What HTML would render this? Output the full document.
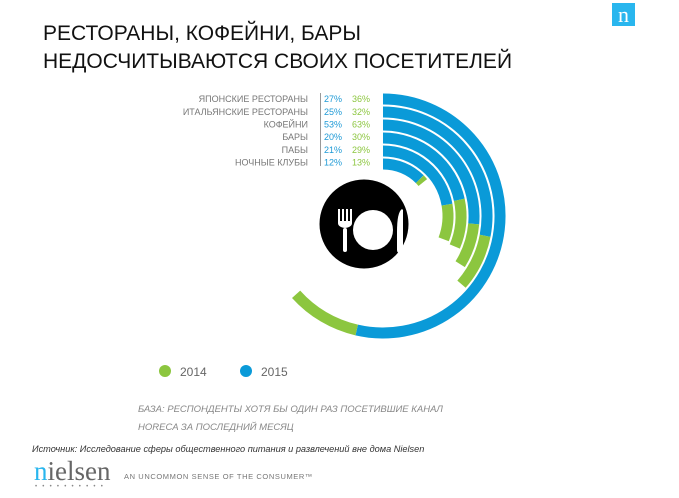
<!DOCTYPE html>
<html><head><meta charset="utf-8"><style>
body{margin:0;width:679px;height:498px;background:#fff;overflow:hidden;font-family:"Liberation Sans","Noto Sans CJK SC",sans-serif}
</style></head><body>
<svg id="s" width="679" height="498" xmlns="http://www.w3.org/2000/svg" style="position:absolute;left:0;top:0">
<text x="43" y="40" font-size="21" fill="#111" font-family="Liberation Sans, sans-serif">РЕСТОРАНЫ, КОФЕЙНИ, БАРЫ</text>
<text x="43" y="68" font-size="21" fill="#111" font-family="Liberation Sans, sans-serif">НЕДОСЧИТЫВАЮТСЯ СВОИХ ПОСЕТИТЕЛЕЙ</text>
<rect x="612" y="3" width="23" height="23" fill="#29b6ee"/>
<text x="623.5" y="22" font-size="22" fill="#fff" text-anchor="middle" font-family="Liberation Serif, serif">n</text>
<g font-size="9" fill="#777" text-anchor="end">
<text x="308" y="102">ЯПОНСКИЕ РЕСТОРАНЫ</text>
<text x="308" y="115">ИТАЛЬЯНСКИЕ РЕСТОРАНЫ</text>
<text x="308" y="127.5">КОФЕЙНИ</text>
<text x="308" y="140">БАРЫ</text>
<text x="308" y="153">ПАБЫ</text>
<text x="308" y="165.5">НОЧНЫЕ КЛУБЫ</text>
</g>
<line x1="320.5" y1="93" x2="320.5" y2="166" stroke="#999" stroke-width="1"/>
<g font-size="9" fill="#1e9ad6">
<text x="324" y="102">27%</text><text x="324" y="115">25%</text><text x="324" y="127.5">53%</text><text x="324" y="140">20%</text><text x="324" y="153">21%</text><text x="324" y="165.5">12%</text>
</g>
<g font-size="9" fill="#8cc63f">
<text x="352" y="102">36%</text><text x="352" y="115">32%</text><text x="352" y="127.5">63%</text><text x="352" y="140">30%</text><text x="352" y="153">29%</text><text x="352" y="165.5">13%</text>
</g>
<g id="arcs" fill="none" stroke-width="11"></g>
<circle cx="364" cy="224" r="44.5" fill="#000"/>
<circle cx="373" cy="230" r="20" fill="#fff"/>
<rect x="343" y="228" width="4" height="24" rx="2" fill="#fff"/>
<path d="M338 209h2v12h2v-12h2v12h2v-12h2v12h2v-12h2v14q0 4-7 5-7-1-7-5z" fill="#fff"/>
<path d="M402 209 Q397 212 397 232 V250 Q397 253 400 253 Q403 253 403 250 V210 Z" fill="#fff"/>
<circle cx="165" cy="371" r="6" fill="#8cc63f"/>
<text x="180" y="376" font-size="12" fill="#666">2014</text>
<circle cx="246" cy="371" r="6" fill="#0a9ad8"/>
<text x="261" y="376" font-size="12" fill="#666">2015</text>
<text x="138" y="412" font-size="9.5" fill="#888" font-style="italic">БАЗА: РЕСПОНДЕНТЫ ХОТЯ БЫ ОДИН РАЗ ПОСЕТИВШИЕ КАНАЛ</text>
<text x="138" y="430" font-size="9.5" fill="#888" font-style="italic">HORECA ЗА ПОСЛЕДНИЙ МЕСЯЦ</text>
<text x="32" y="452" font-size="9.2" fill="#333" font-style="italic">Источник: Исследование сферы общественного питания и развлечений вне дома Nielsen</text>
<text x="34" y="480" font-size="27" fill="#666" font-family="Liberation Serif, serif"><tspan fill="#29b6ee">n</tspan>ielsen</text>
<text x="35" y="488" font-size="6" fill="#888" letter-spacing="5.2">••••••••••</text>
<text x="124" y="479" font-size="7.5" fill="#777" letter-spacing="0.6">AN UNCOMMON SENSE OF THE CONSUMER™</text>
</svg>
<script>
var cx=383,cy=216;
var rings=[[117,193,228],[104,101,131],[91,95,122],[78,78,113],[65,80,111],[52,45,50]];
function pt(r,a){a=a*Math.PI/180;return [cx+r*Math.sin(a),cy-r*Math.cos(a)];}
function arc(r,a0,a1,c){var p=pt(r,a0),q=pt(r,a1);var l=(a1-a0)>180?1:0;
return '<path d="M'+p[0].toFixed(1)+' '+p[1].toFixed(1)+' A'+r+' '+r+' 0 '+l+' 1 '+q[0].toFixed(1)+' '+q[1].toFixed(1)+'" stroke="'+c+'"/>';}
var h='';rings.forEach(function(g){h+=arc(g[0],0,g[1],'#0a9ad8')+arc(g[0],g[1],g[2],'#8cc63f');});
document.getElementById('arcs').innerHTML=h;
</script>
</body></html>
